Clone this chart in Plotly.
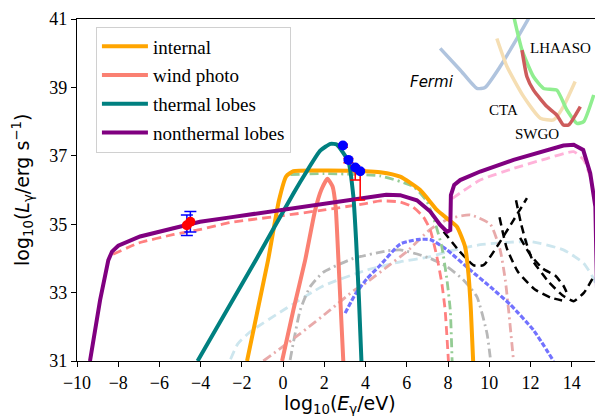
import plotly.graph_objects as go

# ---------------- data ----------------
internal_x = [-1.75, -0.73, -0.2, 0.15, 0.5, 2.0, 4.0, 4.71, 5.68, 6.65, 7.46, 7.95, 8.43, 8.83, 8.99, 9.11, 9.22]
internal_y = [31.0, 33.95, 35.7, 36.4, 36.55, 36.57, 36.55, 36.52, 36.39, 36.0, 35.42, 35.17, 34.93, 34.34, 33.56, 32.49, 31.0]

wind_x = [-0.05, 0.5, 1.07, 1.55, 1.85, 2.15, 2.4, 2.55, 2.68, 2.8, 2.92]
wind_y = [31.0, 32.5, 33.95, 35.4, 36.0, 36.33, 36.1, 35.5, 34.0, 32.5, 31.0]

thermal_x = [-4.15, -1.28, 0.5, 1.15, 1.8, 2.3, 2.6, 2.9, 3.17, 3.41, 3.54, 3.68, 3.8]
thermal_y = [31.0, 34.0, 35.9, 36.55, 37.15, 37.35, 37.33, 37.1, 36.83, 35.8, 34.54, 32.8, 31.0]

nonthermal_x = [-9.37, -8.88, -8.48, -8.3, -8.0, -6.94, -5.32, -4.03, -2.57, 0.0, 2.0, 4.0, 5.0, 5.68, 6.49, 7.14,
                7.62, 7.95, 8.11, 8.14, 8.3, 8.59, 9.56, 11.18, 12.8, 13.6, 14.1, 14.56, 14.9, 15.15, 15.23, 15.4, 15.6]
nonthermal_y = [31.0, 32.78, 33.95, 34.2, 34.37, 34.64, 34.88, 35.07, 35.2, 35.42, 35.58, 35.78, 35.86, 35.85, 35.7, 35.37,
                34.98, 34.78, 34.83, 35.85, 36.15, 36.29, 36.54, 36.88, 37.17, 37.3, 37.32, 37.17, 36.49, 35.51, 33.08, 32.5, 32.0]

green_x = [0.35, 2.0, 4.71, 6.33, 6.98, 7.38, 7.70, 7.95, 8.11, 8.2]
green_y = [36.45, 36.48, 36.41, 36.1, 35.66, 35.03, 34.34, 33.37, 32.49, 31.0]

reddash_x = [-8.25, -7.0, -5.3, -4.0, -2.57, 0.0, 2.0, 4.0, 4.71, 5.68, 6.3, 6.8, 7.14, 7.46, 7.70, 7.86, 8.02]
reddash_y = [34.12, 34.45, 34.7, 34.85, 35.05, 35.25, 35.42, 35.6, 35.68, 35.65, 35.5, 35.22, 34.83, 34.05, 33.27, 32.49, 31.0]

pinkdash_x = [8.2, 9.56, 11.18, 12.8, 14.1, 14.58, 14.9, 15.1]
pinkdash_y = [35.75, 36.29, 36.63, 36.92, 37.12, 36.88, 36.39, 35.8]

lightblue_x = [-2.55, -2.2, -1.6, 0.02, 1.96, 4.06, 5.68, 7.14, 8.0, 9.56, 12.0, 13.6, 14.58, 15.07, 15.3]
lightblue_y = [31.05, 31.5, 31.85, 32.49, 33.2, 33.66, 33.9, 34.05, 34.2, 34.4, 34.49, 34.25, 33.86, 33.4, 33.0]

gray_x = [0.34, 0.83, 1.31, 1.96, 3.41, 5.04, 5.68, 6.65, 7.14, 7.95, 8.75, 9.4, 9.89, 10.07]
gray_y = [31.03, 32.49, 33.17, 33.6, 34.0, 34.22, 34.25, 34.1, 34.0, 33.76, 33.37, 32.88, 31.81, 31.0]

rosy_x = [-0.96, 0.83, 2.3, 3.41, 4.06, 5.04, 6.0, 7.14, 8.0, 9.08, 10.05, 10.53, 10.78, 10.94, 11.18]
rosy_y = [31.0, 31.8, 32.5, 33.05, 33.3, 33.75, 34.2, 34.85, 35.15, 35.27, 35.0, 34.25, 33.37, 32.49, 31.0]

bluedot_x = [3.01, 3.5, 4.06, 4.71, 5.68, 6.5, 7.14, 7.95, 9.08, 10.05, 11.02, 12.15, 13.12]
bluedot_y = [32.4, 32.95, 33.4, 33.8, 34.42, 34.55, 34.55, 34.25, 33.66, 33.17, 32.65, 31.9, 31.0]

black1_x = [7.79, 8.5, 9.24, 9.72, 10.37, 11.18, 11.83]
black1_y = [34.78, 34.25, 33.8, 33.8, 34.34, 35.12, 35.76]
black2_x = [11.3, 11.55, 11.8, 12.1, 12.9, 13.6, 14.1, 14.6, 15.1]
black2_y = [35.7, 35.0, 34.45, 33.95, 33.3, 32.9, 32.75, 33.0, 33.5]
black3_x = [10.5, 10.85, 11.4, 12.2, 13.0, 13.7]
black3_y = [35.2, 34.3, 33.6, 33.1, 32.85, 32.75]
black4_x = [11.5, 12.0, 12.6, 13.2, 13.6, 13.8]
black4_y = [34.6, 34.1, 33.7, 33.5, 33.2, 32.95]

fermi_x = [7.62, 8.59, 9.4, 9.8, 10.53, 11.91, 12.1]
fermi_y = [40.14, 39.51, 38.97, 39.0, 39.61, 41.02, 41.3]
cta_x = [10.37, 10.86, 11.67, 12.48, 13.12, 13.6, 14.17]
cta_y = [40.43, 39.61, 38.73, 38.1, 38.05, 38.44, 39.17]
lhaaso_x = [11.2, 11.59, 12.15, 12.64, 13.28, 13.77, 14.26, 14.58, 15.07]
lhaaso_y = [41.05, 40.09, 39.31, 38.97, 38.92, 38.34, 37.95, 38.0, 38.78]
swgo_x = [11.59, 11.83, 12.15, 12.8, 13.28, 13.6, 13.85, 14.42]
swgo_y = [40.09, 39.31, 38.92, 38.44, 38.19, 37.9, 37.9, 38.44]

low_pts_x = [-4.67, -4.5]
low_pts_y = [34.97, 35.07]
low_err = [0.3, 0.3]

high_pts_x = [2.9, 3.17, 3.5, 3.74]
high_pts_y = [37.3, 36.88, 36.66, 36.55]
high_err_up = [0.04, 0.04, 0.05, 0.05]
high_err_dn = [0.05, 0.08, 0.37, 0.84]

x_ticks = [-10, -8, -6, -4, -2, 0, 2, 4, 6, 8, 10, 12, 14]
y_ticks = [31, 33, 35, 37, 39, 41]

# ---------------- figure ----------------
fig = go.Figure()
SM = 0.5


def add_line(x, y, color, width, dash="solid", name=None, legend=False, shape="spline", rank=None):
    fig.add_trace(go.Scatter(
        x=x, y=y, mode="lines", name=name, showlegend=legend,
        legendgroup=name if legend else None,
        legendrank=rank if rank else 1000,
        line=dict(color=color, width=width, dash=dash, shape=shape, smoothing=SM if shape == "spline" else None),
        hoverinfo="skip"))


DASHDOT = "9px,4px,2px,4px"
# background model curves
add_line(lightblue_x, lightblue_y, "#cde6ee", 2.8, "9px,5px")
add_line(gray_x, gray_y, "#b8b8b8", 2.8, DASHDOT)
add_line(rosy_x, rosy_y, "#e8aaaa", 2.8, DASHDOT)
add_line(bluedot_x, bluedot_y, "#7272ff", 3.2, "5px,2px")
add_line(green_x, green_y, "#94cc94", 2.8, DASHDOT)
add_line(reddash_x, reddash_y, "#ff8080", 2.8, "9px,5px")
add_line(pinkdash_x, pinkdash_y, "#ffb2d9", 2.8, "9px,5px")

# sensitivity curves
for bx, by in [(black1_x, black1_y), (black2_x, black2_y), (black3_x, black3_y), (black4_x, black4_y)]:
    add_line(bx, by, "black", 2.5, "8px,5px")
add_line(fermi_x, fermi_y, "#b0c4de", 3.5)
add_line(cta_x, cta_y, "#f5deb3", 3.5)
add_line(lhaaso_x, lhaaso_y, "#90ee90", 3.5)
add_line(swgo_x, swgo_y, "#cd5c5c", 3.5)

# main curves
add_line(wind_x, wind_y, "#fa8072", 4, name="wind photo", legend=True, rank=2)
add_line(internal_x, internal_y, "#ffa500", 4, name="internal", legend=True, rank=1)
add_line(thermal_x, thermal_y, "#008080", 4, name="thermal lobes", legend=True, rank=3)
add_line(nonthermal_x, nonthermal_y, "#800080", 4, name="nonthermal lobes", legend=True, shape="linear", rank=4)

# data points
fig.add_trace(go.Scatter(
    x=low_pts_x, y=low_pts_y, mode="markers", showlegend=False,
    marker=dict(color="red", size=10),
    error_y=dict(type="data", array=low_err, color="blue", thickness=1.5, width=6)))
fig.add_trace(go.Scatter(
    x=high_pts_x, y=high_pts_y, mode="markers", showlegend=False,
    marker=dict(color="blue", size=10),
    error_y=dict(type="data", symmetric=False, array=high_err_up, arrayminus=high_err_dn,
                 color="red", thickness=1.5, width=5)))

serif = "Liberation Serif, Times New Roman, serif"
sans = "DejaVu Sans, sans-serif"

# page body has an 8px margin; figure is sized so the plot area lands where the reference has it
fig.update_layout(
    width=595, height=408,
    margin=dict(l=69, r=0, t=11, b=55),
    paper_bgcolor="white", plot_bgcolor="white",
    xaxis=dict(range=[-10, 15.52], tickvals=x_ticks, ticktext=[str(v).replace("-", "\u2212") for v in x_ticks],
               showline=True, linecolor="black", linewidth=1.2, mirror=True, ticks="outside", ticklen=5,
               tickcolor="black", showgrid=False, zeroline=False,
               tickfont=dict(family=serif, size=18, color="black")),
    yaxis=dict(range=[31, 41], tickvals=y_ticks, showline=True, linecolor="black", linewidth=1.2,
               ticks="outside", ticklen=5, tickcolor="black", showgrid=False, zeroline=False,
               tickfont=dict(family=serif, size=18, color="black")),
    legend=dict(x=0.036, y=0.978, xanchor="left", yanchor="top",
                bgcolor="white", bordercolor="#d0d0d0", borderwidth=1,
                font=dict(family=serif, size=19, color="black"),
                traceorder="grouped", tracegroupgap=1, itemwidth=46),
    showlegend=True,
)

fig.add_annotation(xref="paper", yref="paper", x=0.5, y=(361 - 404) / 342,
                   text="log<sub>10</sub>(<i>E</i><sub>γ</sub>/eV)", showarrow=False,
                   font=dict(family=sans, size=19, color="black"), xanchor="center", yanchor="middle")
fig.add_annotation(xref="paper", yref="paper", x=(22 - 77) / 526, y=0.5,
                   text="log<sub>10</sub>(<i>L</i><sub>γ</sub>/erg s<sup>−1</sup>)", showarrow=False, textangle=-90,
                   font=dict(family=sans, size=19, color="black"), xanchor="center", yanchor="middle")

for txt, px, py, fam, italic in [("Fermi", 432, 82, sans, True), ("LHAASO", 560, 48, serif, False),
                                 ("CTA", 503, 110, serif, False), ("SWGO", 537, 134, serif, False)]:
    fig.add_annotation(xref="paper", yref="paper", x=(px - 77) / 526, y=1 - (py - 19) / 342,
                       text=f"<i>{txt}</i>" if italic else txt, showarrow=False,
                       font=dict(family=fam, size=15, color="black"), xanchor="center", yanchor="middle")

fig.write_html("out.html")
